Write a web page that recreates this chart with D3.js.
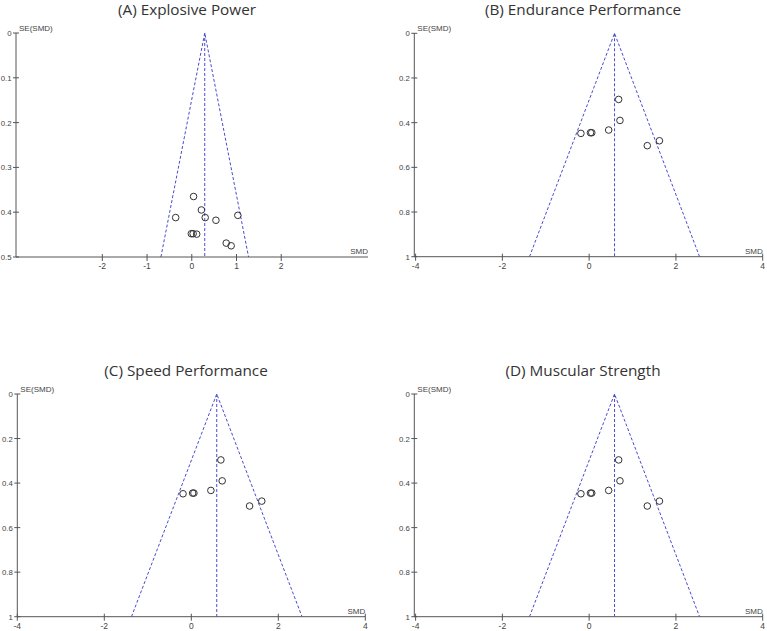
<!DOCTYPE html>
<html><head><meta charset="utf-8">
<script src="https://cdn.jsdelivr.net/npm/d3@7"></script>
<style>body{margin:0;background:#fff}svg{display:block}</style>
</head><body>
<script>
// ---- data ----
const titles = ["(A) Explosive Power", "(B) Endurance Performance", "(C) Speed Performance", "(D) Muscular Strength"];
const summarySMD = [0.29, 0.585, 0.585, 0.585];
const smdA = [0.04, 0.215, -0.36, 0.30, 0.54, 1.03, -0.01, 0.03, 0.11, 0.77, 0.88];
const seA  = [0.365, 0.395, 0.412, 0.412, 0.418, 0.407, 0.448, 0.448, 0.449, 0.469, 0.475];
const smdB = [0.68, 0.71, 0.45, -0.19, 0.03, 0.06, 1.34, 1.62];
const seB  = [0.296, 0.39, 0.433, 0.448, 0.445, 0.445, 0.503, 0.481];
const smdC = [0.68, 0.71, 0.45, -0.19, 0.03, 0.06, 1.34, 1.62];
const seC  = [0.296, 0.39, 0.433, 0.448, 0.445, 0.445, 0.503, 0.481];
const smdD = [0.68, 0.71, 0.45, -0.19, 0.03, 0.06, 1.34, 1.62];
const seD  = [0.296, 0.39, 0.433, 0.448, 0.445, 0.445, 0.503, 0.481];
const xTicksA = [-2, -1, 0, 1, 2];
const xTicksB = [-4, -2, 0, 2, 4];
const yTicksA = [0, 0.1, 0.2, 0.3, 0.4, 0.5];
const yTicksB = [0, 0.2, 0.4, 0.6, 0.8, 1];
const yLabel = "SE(SMD)", xLabel = "SMD";

// ---- layout ----
const W = 767, H = 631;
const panels = [
  {title: titles[0], smd: smdA, se: seA, sum: summarySMD[0], xd: [-3.93, 3.94], xr: [16, 368], yd: [0, 0.5], yr: [33, 257], xt: xTicksA, yt: yTicksA, tx: 187, ty: 15},
  {title: titles[1], smd: smdB, se: seB, sum: summarySMD[1], xd: [-4.03, 4], xr: [414.3, 762.7], yd: [0, 1], yr: [33.3, 256.7], xt: xTicksB, yt: yTicksB, tx: 583, ty: 15},
  {title: titles[2], smd: smdC, se: seC, sum: summarySMD[2], xd: [-4.0, 4], xr: [17.3, 365.3], yd: [0, 1], yr: [394, 616.7], xt: xTicksB, yt: yTicksB, tx: 186, ty: 376},
  {title: titles[3], smd: smdD, se: seD, sum: summarySMD[3], xd: [-4.03, 4], xr: [414.3, 762.7], yd: [0, 1], yr: [394, 616.7], xt: xTicksB, yt: yTicksB, tx: 583, ty: 376}
];

const svg = d3.select("body").append("svg").attr("width", W).attr("height", H);
const axisCol = "#555", textCol = "#444", dashCol = "#4a4ad0";

panels.forEach(p => {
  const x = d3.scaleLinear().domain(p.xd).range(p.xr);
  const y = d3.scaleLinear().domain(p.yd).range(p.yr);
  const g = svg.append("g");
  const x0 = p.xr[0], x1 = p.xr[1], yb = p.yr[1], yt0 = p.yr[0];

  g.append("text").attr("x", p.tx).attr("y", p.ty).attr("text-anchor", "middle")
    .attr("font-family", "Open Sans").attr("font-size", 15.3).attr("fill", "#333").text(p.title);

  // funnel
  const seMax = p.yd[1];
  const funnel = [[p.sum - 1.96 * seMax, seMax], [p.sum, 0], [p.sum + 1.96 * seMax, seMax]];
  g.append("path").attr("d", d3.line().x(d => x(d[0])).y(d => y(d[1]))(funnel))
    .attr("fill", "none").attr("stroke", dashCol).attr("stroke-width", 1).attr("stroke-dasharray", "3,2");
  g.append("line").attr("x1", x(p.sum)).attr("x2", x(p.sum)).attr("y1", y(0)).attr("y2", y(seMax))
    .attr("stroke", dashCol).attr("stroke-width", 1).attr("stroke-dasharray", "3,2");

  // axes
  g.append("line").attr("x1", x0).attr("x2", x0).attr("y1", yt0).attr("y2", yb).attr("stroke", axisCol);
  g.append("line").attr("x1", x0).attr("x2", x1).attr("y1", yb).attr("y2", yb).attr("stroke", axisCol);
  p.yt.forEach(t => {
    g.append("line").attr("x1", x0 - 3).attr("x2", x0 + 3).attr("y1", y(t)).attr("y2", y(t)).attr("stroke", axisCol);
    g.append("text").attr("x", x0 - 4.5).attr("y", y(t) + 3).attr("text-anchor", "end")
      .attr("font-family", "Liberation Sans").attr("font-size", 7.8).attr("fill", textCol).text(t);
  });
  p.xt.forEach(t => {
    g.append("line").attr("x1", x(t)).attr("x2", x(t)).attr("y1", yb - 3).attr("y2", yb + 4).attr("stroke", axisCol);
    g.append("text").attr("x", x(t)).attr("y", yb + 12).attr("text-anchor", "middle")
      .attr("font-family", "Liberation Sans").attr("font-size", 8.5).attr("fill", textCol).text(t);
  });
  g.append("text").attr("x", x0 + 3).attr("y", yt0 - 2).attr("font-family", "Liberation Sans")
    .attr("font-size", 8).attr("fill", textCol).text(yLabel);
  g.append("text").attr("x", x1).attr("y", yb - 3).attr("text-anchor", "end").attr("font-family", "Liberation Sans")
    .attr("font-size", 8).attr("fill", textCol).text(xLabel);

  // points
  g.selectAll("circle").data(p.smd.map((v, i) => [v, p.se[i]])).enter().append("circle")
    .attr("cx", d => x(d[0])).attr("cy", d => y(d[1])).attr("r", 3.3)
    .attr("fill", "none").attr("stroke", "#333").attr("stroke-width", 1);
});
</script>
</body></html>
